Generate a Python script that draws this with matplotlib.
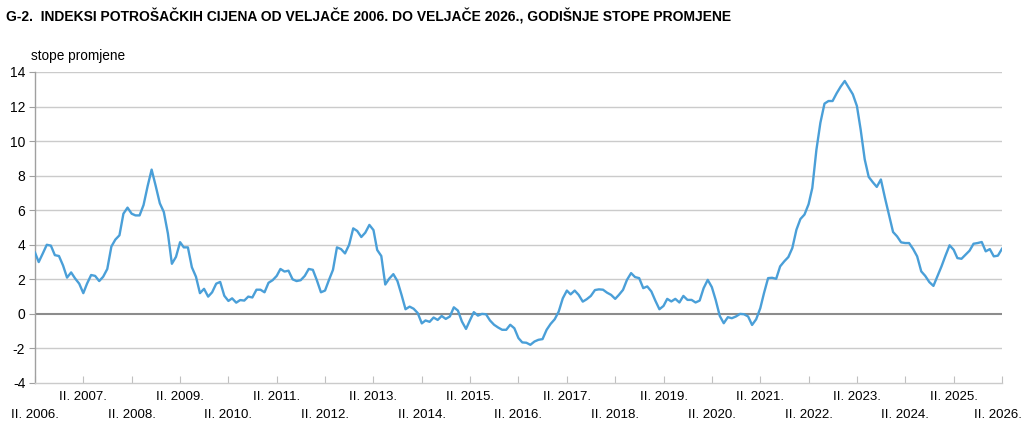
import pandas as pd
import numpy as np
import matplotlib
matplotlib.use('Agg')
import matplotlib.pyplot as plt
import matplotlib.transforms as mtransforms
from matplotlib import font_manager

# Annual CPI rates of change, monthly, Feb 2006 - Feb 2026
rates = [
    3.55, 3.0, 3.5, 4.0, 3.95, 3.4, 3.35, 2.8, 2.1, 2.4, 2.05, 1.75,        # 2006
    1.2, 1.75, 2.25, 2.2, 1.9, 2.15, 2.6, 3.9, 4.3, 4.55, 5.8, 6.15,        # 2007
    5.8, 5.7, 5.7, 6.3, 7.4, 8.35, 7.4, 6.4, 5.9, 4.65, 2.9, 3.3,           # 2008
    4.15, 3.85, 3.85, 2.7, 2.15, 1.2, 1.45, 1.0, 1.25, 1.75, 1.85, 1.05,    # 2009
    0.75, 0.9, 0.65, 0.8, 0.77, 1.0, 0.95, 1.4, 1.4, 1.25, 1.8, 1.95,       # 2010
    2.2, 2.6, 2.45, 2.5, 2.0, 1.9, 1.95, 2.2, 2.6, 2.55, 1.95, 1.25,        # 2011
    1.35, 1.95, 2.55, 3.85, 3.75, 3.5, 4.0, 4.95, 4.8, 4.45, 4.7, 5.15,     # 2012
    4.85, 3.7, 3.35, 1.7, 2.05, 2.3, 1.9, 1.1, 0.27, 0.42, 0.3, 0.05,       # 2013
    -0.55, -0.38, -0.46, -0.21, -0.35, -0.12, -0.29, -0.15, 0.38, 0.19, -0.44, -0.87,  # 2014
    -0.35, 0.1, -0.1, 0.0, -0.02, -0.38, -0.63, -0.79, -0.92, -0.92, -0.63, -0.83,     # 2015
    -1.4, -1.65, -1.67, -1.79, -1.6, -1.5, -1.46, -0.92, -0.58, -0.31, 0.13, 0.9,      # 2016
    1.35, 1.13, 1.35, 1.1, 0.71, 0.85, 1.04, 1.38, 1.42, 1.4, 1.23, 1.1,    # 2017
    0.87, 1.1, 1.39, 1.97, 2.36, 2.13, 2.07, 1.49, 1.59, 1.3, 0.77, 0.27,   # 2018
    0.46, 0.87, 0.72, 0.87, 0.66, 1.04, 0.81, 0.81, 0.66, 0.77, 1.49, 1.97, # 2019
    1.55, 0.81, -0.12, -0.54, -0.19, -0.25, -0.15, 0.0, -0.02, -0.15, -0.64, -0.31,    # 2020
    0.33, 1.2, 2.07, 2.09, 2.03, 2.75, 3.04, 3.29, 3.81, 4.87, 5.49, 5.75,  # 2021
    6.35, 7.29, 9.5, 11.06, 12.17, 12.32, 12.32, 12.77, 13.15, 13.48, 13.1, 12.71,     # 2022
    12.03, 10.68, 8.94, 7.93, 7.62, 7.35, 7.78, 6.71, 5.74, 4.74, 4.49, 4.14,          # 2023
    4.1, 4.1, 3.75, 3.33, 2.46, 2.2, 1.84, 1.62, 2.17, 2.75, 3.37, 3.97,    # 2024
    3.71, 3.23, 3.19, 3.42, 3.66, 4.06, 4.1, 4.16, 3.62, 3.75, 3.33, 3.37,  # 2025
    3.77,                                                                   # 2026
]
years = list(range(2006, 2027))
tick_labels = [f'II. {y}.' for y in years]
y_ticks = [-4, -2, 0, 2, 4, 6, 8, 10, 12, 14]

dates = pd.date_range('2006-02-01', periods=len(rates), freq='MS')
tick_dates = pd.to_datetime([f'{y}-02-01' for y in years])

# prefer a narrow face if one is installed, otherwise shrink the regular one
installed = {f.name for f in font_manager.fontManager.ttflist}
if 'Liberation Sans Narrow' in installed:
    plt.rcParams['font.family'] = ['Liberation Sans Narrow', 'DejaVu Sans']
    title_fs, lab_fs, tick_fs = 12, 11, 11.5
else:
    plt.rcParams['font.family'] = ['Liberation Sans', 'DejaVu Sans']
    title_fs, lab_fs, tick_fs = 10, 9.8, 9.5

fig = plt.figure(figsize=(10.24, 4.28), dpi=100)
ax = fig.add_axes([35 / 1024, 1 - 383 / 428, 967 / 1024, 311 / 428])

# gridlines
for v in y_ticks[1:]:
    ax.axhline(v, color='#8c8c8c' if v == 0 else '#cbcbcb',
               lw=1.5 if v == 0 else 1.0, zorder=1)

ax.plot(dates, rates, color='#4a9fd8', lw=1.7, zorder=3)

ax.set_xlim(dates[0], dates[-1])
ax.set_ylim(-4, 14)
ax.set_yticks(y_ticks)
ax.set_yticklabels([str(v) for v in y_ticks])

ax.set_xticks(tick_dates)
ax.set_xticklabels([])

# two staggered rows of year labels
trans = mtransforms.blended_transform_factory(ax.transData, ax.transAxes)
for i, (d, lab) in enumerate(zip(tick_dates, tick_labels)):
    yy = -14 / 311 if i % 2 else -32 / 311
    tr = trans
    if i == len(tick_labels) - 1:
        tr = mtransforms.offset_copy(trans, fig=fig, x=-4, y=0, units='dots')
    ax.text(d, yy, lab, transform=tr, ha='center', va='center', fontsize=tick_fs)

for s in ['top', 'right']:
    ax.spines[s].set_visible(False)
ax.spines['left'].set_color('#a0a0a0')
ax.spines['bottom'].set_color('#cbcbcb')
ax.spines['left'].set_linewidth(1.0)
ax.spines['bottom'].set_linewidth(1.0)

ax.tick_params(axis='x', direction='in', length=5, color='#c0c0c0')
ax.tick_params(axis='y', direction='out', length=4, color='#a0a0a0',
               labelsize=tick_fs + 0.5, pad=3)

fig.text(6 / 1024, 1 - 16 / 428,
         'G-2.  INDEKSI POTROŠAČKIH CIJENA OD VELJAČE 2006. DO VELJAČE 2026., GODIŠNJE STOPE PROMJENE',
         fontsize=title_fs, fontweight='bold', va='center', ha='left')
fig.text(31 / 1024, 1 - 56 / 428, 'stope promjene', fontsize=lab_fs, va='center', ha='left')

fig.savefig('out.png', dpi=100)
